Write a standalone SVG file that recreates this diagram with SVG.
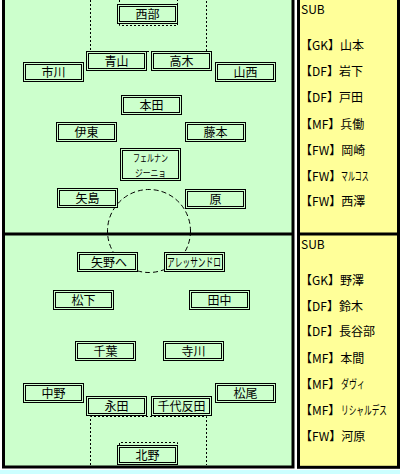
<svg xmlns="http://www.w3.org/2000/svg" width="400" height="474" viewBox="0 0 400 474">
<style>
.o{fill:#ccffcc;stroke:#000;stroke-width:1}
.i{fill:none;stroke:#000;stroke-width:1}
text{font-family:"Noto Sans CJK JP","Noto Sans CJK SC",sans-serif;font-size:12px;fill:#000}
.n{text-anchor:middle}
.s{font-size:10px}
.dot{fill:none;stroke:#000;stroke-width:1;stroke-dasharray:2 2}
.dash{fill:none;stroke:#000;stroke-width:1;stroke-dasharray:5 3}
.line{fill:none;stroke:#000;stroke-width:3}
</style>
<rect x="0" y="0" width="400" height="474" fill="#fff"/>
<rect x="0" y="470" width="400" height="4" fill="#ccffff"/>
<!-- field -->
<rect x="3.5" y="-10" width="289.5" height="477" fill="#ccffcc" stroke="#000" stroke-width="3"/>
<line class="line" x1="3.5" y1="234" x2="293" y2="234"/>
<!-- sub panel -->
<rect x="298.5" y="-10" width="100" height="477.3" fill="#ffff99" stroke="#000" stroke-width="3"/>
<line class="line" x1="298.5" y1="234" x2="398.5" y2="234"/>
<!-- field markings -->
<g id="markings">
<path class="dot" d="M90.5 0V51.5H206.5V0"/>
<path class="dot" d="M119.5 0V25.5H177.5V0"/>
<path class="dot" d="M90.5 465V416.5H206.5V465"/>
<path class="dot" d="M119.5 465V442.5H177.5V465"/>
<circle class="dash" cx="149" cy="231" r="41.5"/>
</g>
<g id="connectors"></g>
<!-- top team -->
<g id="n-nishibe"><rect class="o" x="117.5" y="4.5" width="60" height="19"/><rect class="i" x="119.5" y="6.5" width="56" height="15"/><text class="n" x="147.5" y="18.5">西部</text></g>
<g id="n-aoyama"><rect class="o" x="86.5" y="51.5" width="60" height="19"/><rect class="i" x="88.5" y="53.5" width="56" height="15"/><text class="n" x="116.5" y="65.5">青山</text></g>
<g id="n-takagi"><rect class="o" x="151.5" y="51.5" width="60" height="19"/><rect class="i" x="153.5" y="53.5" width="56" height="15"/><text class="n" x="181.5" y="65.5">高木</text></g>
<g id="n-ichikawa"><rect class="o" x="23.5" y="62.5" width="60" height="19"/><rect class="i" x="25.5" y="64.5" width="56" height="15"/><text class="n" x="53.5" y="76.5">市川</text></g>
<g id="n-yamanishi"><rect class="o" x="215.5" y="62.5" width="60" height="19"/><rect class="i" x="217.5" y="64.5" width="56" height="15"/><text class="n" x="245.5" y="76.5">山西</text></g>
<g id="n-honda"><rect class="o" x="121.5" y="95.5" width="60" height="19"/><rect class="i" x="123.5" y="97.5" width="56" height="15"/><text class="n" x="151.5" y="109.5">本田</text></g>
<g id="n-ito"><rect class="o" x="56.5" y="122.5" width="60" height="19"/><rect class="i" x="58.5" y="124.5" width="56" height="15"/><text class="n" x="86.5" y="136.5">伊東</text></g>
<g id="n-fujimoto"><rect class="o" x="185.5" y="122.5" width="60" height="19"/><rect class="i" x="187.5" y="124.5" width="56" height="15"/><text class="n" x="215.5" y="136.5">藤本</text></g>
<g id="n-fernandinho"><rect class="o" x="120.5" y="148.5" width="60" height="32"/><rect class="i" x="122.5" y="150.5" width="56" height="28"/><text class="s" x="133" y="162" textLength="35" lengthAdjust="spacingAndGlyphs">フェルナン</text><text class="s" x="135" y="176.5" textLength="31" lengthAdjust="spacingAndGlyphs">ジーニョ</text></g>
<g id="n-yajima"><rect class="o" x="57.5" y="188.5" width="60" height="19"/><rect class="i" x="59.5" y="190.5" width="56" height="15"/><text class="n" x="87.5" y="202.5">矢島</text></g>
<g id="n-hara"><rect class="o" x="185.5" y="189.5" width="60" height="19"/><rect class="i" x="187.5" y="191.5" width="56" height="15"/><text class="n" x="215.5" y="203.5">原</text></g>
<!-- bottom team -->
<g id="n-yano"><rect class="o" x="77.5" y="252.5" width="60" height="19"/><rect class="i" x="79.5" y="254.5" width="56" height="15"/><text class="n" x="109" y="266.5">矢野へ</text></g>
<g id="n-alessandro"><rect class="o" x="164.5" y="252.5" width="60" height="19"/><rect class="i" x="166.5" y="254.5" width="56" height="15"/><text x="167" y="266.5" textLength="54" lengthAdjust="spacingAndGlyphs">アレッサンドロ</text></g>
<g id="n-matsushita"><rect class="o" x="53.5" y="290.5" width="60" height="19"/><rect class="i" x="55.5" y="292.5" width="56" height="15"/><text class="n" x="83.5" y="304.5">松下</text></g>
<g id="n-tanaka"><rect class="o" x="189.5" y="290.5" width="60" height="19"/><rect class="i" x="191.5" y="292.5" width="56" height="15"/><text class="n" x="219.5" y="304.5">田中</text></g>
<g id="n-chiba"><rect class="o" x="75.5" y="341.5" width="60" height="19"/><rect class="i" x="77.5" y="343.5" width="56" height="15"/><text class="n" x="105.5" y="355.5">千葉</text></g>
<g id="n-terakawa"><rect class="o" x="163.5" y="341.5" width="60" height="19"/><rect class="i" x="165.5" y="343.5" width="56" height="15"/><text class="n" x="193.5" y="355.5">寺川</text></g>
<g id="n-nakano"><rect class="o" x="23.5" y="383.5" width="60" height="19"/><rect class="i" x="25.5" y="385.5" width="56" height="15"/><text class="n" x="53.5" y="397.5">中野</text></g>
<g id="n-matsuo"><rect class="o" x="215.5" y="383.5" width="60" height="19"/><rect class="i" x="217.5" y="385.5" width="56" height="15"/><text class="n" x="245.5" y="397.5">松尾</text></g>
<g id="n-nagata"><rect class="o" x="86.5" y="396.5" width="60" height="19"/><rect class="i" x="88.5" y="398.5" width="56" height="15"/><text class="n" x="116.5" y="410.5">永田</text></g>
<g id="n-chiyotanda"><rect class="o" x="151.5" y="396.5" width="60" height="19"/><rect class="i" x="153.5" y="398.5" width="56" height="15"/><text class="n" x="181.5" y="410.5">千代反田</text></g>
<g id="n-kitano"><rect class="o" x="117.5" y="445.5" width="60" height="19"/><rect class="i" x="119.5" y="447.5" width="56" height="15"/><text class="n" x="147.5" y="459.5">北野</text></g>
<!-- subs top -->
<g id="subs-top">
<text x="301" y="14">SUB</text>
<text x="300" y="49.5">【GK】山本</text>
<text x="300" y="76">【DF】岩下</text>
<text x="300" y="102">【DF】戸田</text>
<text x="300" y="128.5">【MF】兵働</text>
<text x="300" y="154.5">【FW】岡崎</text>
<g><text x="300" y="180.5">【FW】</text><text transform="translate(341 180.5) scale(0.58 1)">マルコス</text></g>
<text x="300" y="206">【FW】西澤</text>
</g>
<g id="subs-bottom">
<text x="301" y="248.5">SUB</text>
<text x="300" y="284.5">【GK】野澤</text>
<text x="300" y="310.5">【DF】鈴木</text>
<text x="300" y="336">【DF】長谷部</text>
<text x="300" y="362.5">【MF】本間</text>
<g><text x="300" y="388.5">【MF】</text><text transform="translate(341 388.5) scale(0.67 1)">ダヴィ</text></g>
<g><text x="300" y="414.5">【MF】</text><text transform="translate(341 414.5) scale(0.64 1)">リシャルデス</text></g>
<text x="300" y="440.5">【FW】河原</text>
</g>
</svg>
